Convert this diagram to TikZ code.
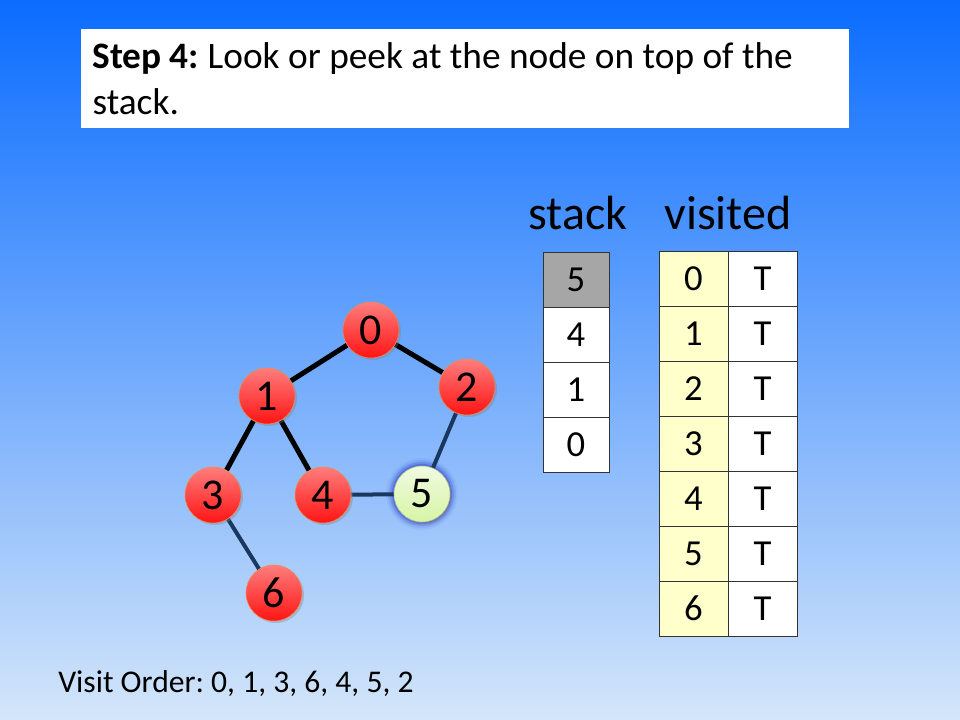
\documentclass[tikz,border=0pt]{standalone}
\usepackage{fontspec}
\setmainfont{Carlito}
\usetikzlibrary{positioning, shadows}
\frenchspacing

\definecolor{bgtop}{RGB}{10,108,255}
\definecolor{bgmid}{RGB}{120,180,248}
\definecolor{bgbot}{RGB}{212,230,250}
\definecolor{nodetop}{RGB}{255,125,125}
\definecolor{nodebot}{RGB}{255,20,20}
\definecolor{nodeline}{RGB}{240,140,70}
\definecolor{greentop}{RGB}{240,250,225}
\definecolor{greenbot}{RGB}{215,245,165}
\definecolor{navy}{RGB}{25,55,95}
\definecolor{paleyellow}{RGB}{255,255,204}
\definecolor{topgray}{RGB}{166,166,166}

\pgfdeclarelayer{bg}
\pgfdeclarelayer{edges}
\pgfsetlayers{bg,edges,main}

\tikzset{
    vertex/.style={circle, minimum size=42pt, inner sep=0pt,
        top color=nodetop, bottom color=nodebot, draw=nodeline, thin,
        font=\fontsize{33}{34}\selectfont,
        drop shadow={opacity=0.35, shadow xshift=1.5pt, shadow yshift=-1.5pt}},
    current/.style={top color=greentop, bottom color=greenbot, draw=greenbot!80!black},
    cell/.style={draw=black!80, thin, minimum width=49.5pt, minimum height=41.25pt,
        inner sep=0pt, font=\fontsize{27.5}{28}\selectfont},
    heading/.style={font=\fontsize{36}{38}\selectfont, anchor=base},
    tree/.style={line width=3.75pt, black},
    back/.style={line width=3pt, navy}
}

\begin{document}
\begin{tikzpicture}[x=0.75pt, y=-0.75pt, thick]
    \begin{pgfonlayer}{bg}
        \shade [top color=bgtop, middle color=bgmid, bottom color=bgbot]
            (0, 0) rectangle (960, 720);
    \end{pgfonlayer}
    \useasboundingbox (0, 0) rectangle (960, 720);

    \node [fill=white, anchor=north west, minimum width=576pt, minimum height=74.25pt,
        text width=559pt, inner xsep=8.25pt, align=flush left,
        font=\fontsize{28}{34}\selectfont] (title) at (81, 29)
        {\textbf{Step 4:} Look or peek at the node on top of the\\stack.};

    % graph
    \foreach \n/\x/\y in {0/371/330, 1/267/396, 2/467/387, 3/213/495, 4/323/495, 6/274/593} {
        \node [vertex] (n\n) at (\x, \y) {\n};
    }
    \node [vertex, current] (n5) at (422, 494) {5};

    \begin{pgfonlayer}{edges}
        \foreach \r/\o in {8/0.04, 6/0.08, 4/0.14, 2/0.2} {
            \fill [blue!70!black, opacity=\o] (n5) circle ({(28+\r)*0.75pt});
        }
        \draw [tree] (n0) -- (n1);
        \draw [tree] (n0) -- (n2);
        \draw [tree] (n1) -- (n3);
        \draw [tree] (n1) -- (n4);
        \draw [back] (n2) -- (n5);
        \draw [back] (n4) -- (n5);
        \draw [back] (n3) -- (n6);
    \end{pgfonlayer}

    % stack
    \node [heading] (stacklabel) at (578, 230) {stack};
    \foreach \v [count=\i from 0] in {5, 4, 1, 0} {
        \node [cell, fill=white] (s\i) at (576, {279.5 + 55*\i}) {\v};
    }
    \node [cell, fill=topgray] at (s0) {5};

    % visited
    \node [heading] (visitedlabel) at (728, 230) {visited};
    \foreach \i in {0, ..., 6} {
        \node [cell, fill=paleyellow, minimum width=51.75pt] (v\i) at (693.5, {278.5 + 55*\i}) {\i};
        \node [cell, fill=white, minimum width=51.75pt] (t\i) at (762.5, {278.5 + 55*\i}) {T};
    }

    \node [anchor=base west, inner sep=0pt, font=\fontsize{23.7}{26}\selectfont] (order)
        at (58, 692) {Visit Order: 0, 1, 3, 6, 4, 5, 2};
\end{tikzpicture}
\end{document}
